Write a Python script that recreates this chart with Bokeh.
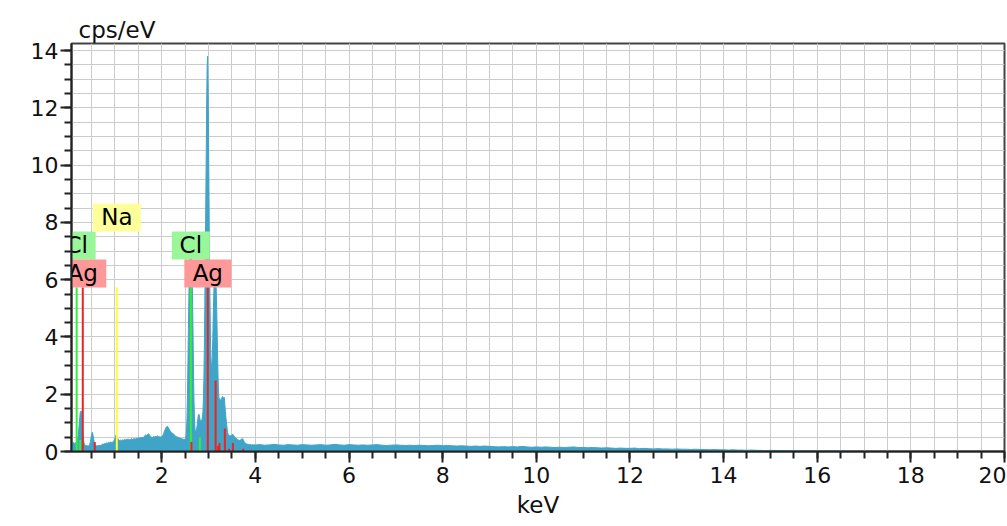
from bokeh.plotting import figure
from bokeh.models import Range1d, FixedTicker, ColumnDataSource
from bokeh.core.properties import value
from bokeh.embed import file_html
from bokeh.resources import INLINE

FONT = "DejaVu Sans"

# ---------------- spectrum data (cps/eV) ----------------
# each segment: (start keV, channel step keV, counts)
seg1_start, seg1_step = 0.08, 0.02
seg1_counts = [
    0.22, 0.30, 0.32, 0.28, 0.30, 0.34, 0.40, 0.58, 1.00, 1.36,
    1.42, 1.02, 0.52, 0.30, 0.22, 0.20, 0.21, 0.19, 0.20, 0.23,
    0.36, 0.58, 0.67, 0.50, 0.30, 0.22, 0.20, 0.19, 0.21, 0.20,
    0.22, 0.21, 0.24, 0.26, 0.25, 0.28, 0.27, 0.30, 0.29, 0.31,
    0.30, 0.33, 0.32, 0.31, 0.34, 0.37, 0.46, 0.57, 0.55, 0.45,
    0.40, 0.38, 0.40, 0.37, 0.41, 0.39, 0.42, 0.40, 0.43, 0.41,
    0.44, 0.42, 0.40, 0.43, 0.45, 0.42, 0.44, 0.46, 0.43, 0.47,
    0.45, 0.48, 0.46, 0.49, 0.47, 0.50, 0.48, 0.52, 0.55, 0.58,
    0.56, 0.60, 0.62, 0.57, 0.53, 0.50, 0.48, 0.52, 0.50, 0.53,
    0.51, 0.55, 0.53, 0.50, 0.52, 0.50, 0.52, 0.55, 0.62, 0.72,
    0.80, 0.86, 0.88, 0.84, 0.78, 0.72, 0.68, 0.65, 0.62, 0.60,
    0.56, 0.53, 0.52, 0.50, 0.49, 0.47, 0.46, 0.45, 0.44, 0.43,
    0.43, 0.42,
]
seg2_start, seg2_step = 2.51, 0.01
seg2_counts = [
    0.46, 0.55, 0.75, 1.20, 2.00, 3.10, 4.30, 5.40, 6.30, 6.90,
    7.25, 7.35, 7.20, 6.80, 6.10, 5.10, 3.90, 2.70, 1.70, 1.10,
    0.80, 0.68, 0.68, 0.72, 0.82, 0.95, 1.10, 1.25, 1.30, 1.28,
    1.20, 1.10, 1.05, 1.06, 1.10, 1.12, 1.20, 1.40, 1.80, 2.50,
    3.60, 5.10, 6.80, 8.50, 10.3, 12.2, 13.4, 13.8, 12.8, 11.0,
    8.90, 6.90, 5.30, 4.10, 3.30, 2.95, 2.95, 3.30, 3.90, 4.70,
    5.40, 5.95, 6.25, 6.35, 6.25, 5.90, 5.30, 4.50, 3.60, 2.80,
    2.20, 1.90, 1.80, 1.85, 1.80, 1.75, 1.80, 1.85, 1.90, 1.92,
    1.88, 1.82, 1.90, 1.85, 1.60, 1.40, 1.20, 1.05, 0.90, 0.75,
    0.65, 0.60, 0.57, 0.55, 0.55,
]
seg3_start, seg3_step = 3.46, 0.02
seg3_counts = [
    0.55, 0.55, 0.58, 0.60, 0.55, 0.50, 0.47, 0.45, 0.42, 0.40,
    0.38, 0.40, 0.43, 0.45, 0.42, 0.35, 0.30, 0.27, 0.26, 0.25,
    0.24, 0.25, 0.24, 0.23, 0.24, 0.23, 0.24,
]
seg4_start, seg4_step = 4.0, 0.1
seg4_counts = [
    0.23, 0.24, 0.22, 0.23, 0.25, 0.23, 0.22, 0.24, 0.23, 0.22,
    0.24, 0.23, 0.22, 0.23, 0.24, 0.22, 0.23, 0.25, 0.23, 0.22,
    0.24, 0.23, 0.22, 0.23, 0.22, 0.23, 0.24, 0.22, 0.21, 0.22,
    0.23, 0.22, 0.21, 0.22, 0.21, 0.22, 0.21, 0.20, 0.21, 0.22,
    0.20, 0.21, 0.20, 0.19, 0.20, 0.19, 0.18, 0.19, 0.18, 0.19,
    0.18, 0.17, 0.16, 0.17, 0.16, 0.17, 0.16, 0.18, 0.16, 0.15,
    0.16, 0.15, 0.16, 0.15, 0.14, 0.15, 0.14, 0.15, 0.16, 0.14,
    0.14, 0.13, 0.14, 0.13, 0.12, 0.13, 0.12, 0.11, 0.12, 0.11,
    0.11, 0.12, 0.10, 0.11, 0.10, 0.09, 0.10, 0.09, 0.09, 0.08,
    0.09, 0.08, 0.08, 0.07, 0.08, 0.07, 0.07, 0.06, 0.07, 0.06,
    0.06, 0.05, 0.06, 0.05, 0.05, 0.04, 0.05, 0.04, 0.04, 0.03,
    0.04, 0.03, 0.03, 0.03, 0.02, 0.03, 0.02, 0.02, 0.02, 0.02,
    0.02, 0.01, 0.02, 0.01, 0.01, 0.01, 0.01, 0.01, 0.00, 0.01,
    0.00,
]
segments = [
    (seg1_start, seg1_step, seg1_counts),
    (seg2_start, seg2_step, seg2_counts),
    (seg3_start, seg3_step, seg3_counts),
    (seg4_start, seg4_step, seg4_counts),
]

# ---------------- element lines ----------------
line_element = ["Cl", "Cl", "Cl", "Cl",
                "Ag", "Ag", "Ag", "Ag", "Ag", "Ag", "Ag", "Ag", "Ag", "Ag", "Ag",
                "Na"]
line_energy = [0.183, 0.257, 2.622, 2.815,
               0.314, 0.570, 2.634, 2.984, 3.151, 3.203, 3.234, 3.348, 3.440, 3.520, 3.740,
               1.041]
line_height = [5.73, 0.40, 5.73, 0.50,
               5.73, 0.33, 0.33, 5.73, 2.48, 0.20, 0.30, 0.80, 0.10, 0.30, 0.10,
               5.73]

# labels: element, energy
label_element = ["Cl", "Ag", "Na", "Cl", "Ag"]
label_energy = [0.183, 0.314, 1.041, 2.622, 2.984]
label_top_cps = 5.73

x_ticks = [2, 4, 6, 8, 10, 12, 14, 16, 18, 20]
y_ticks = [0, 2, 4, 6, 8, 10, 12, 14]

# ---------------- styles ----------------
line_colors = {"Cl": "#33ee33", "Ag": "#ee2222", "Na": "#ffff33"}
box_colors = {"Cl": "#99f799", "Ag": "#ff9999", "Na": "#ffff99"}
box_row = {"Ag": 0, "Cl": 1, "Na": 2}
box_width_px = {"Ag": 47, "Cl": 38, "Na": 48}
BOX_H_PX = 28

X0, X1 = 0.073, 20.0
Y0, Y1 = 0.0, 14.25
W, H = 1006, 525
MB_L, MB_R, MB_T, MB_B = 71, 2, 43, 74
frame_h = H - MB_T - MB_B

p = figure(width=W, height=H, output_backend="svg", toolbar_location=None,
           x_range=Range1d(X0, X1), y_range=Range1d(Y0, Y1),
           min_border_left=MB_L, min_border_right=MB_R,
           min_border_top=MB_T, min_border_bottom=MB_B)
p.title.text = "cps/eV"
p.title.align = "left"
p.title.offset = 7
p.title.standoff = 1
p.title.text_font = FONT
p.title.text_font_size = "23px"
p.title.text_font_style = "normal"
p.title.text_color = "#111111"
p.background_fill_color = "white"
p.border_fill_color = "white"
p.outline_line_color = "#444444"
p.outline_line_width = 2

# spectrum
energies, counts = [], []
for start, step, vals in segments:
    for i, v in enumerate(vals):
        energies.append(round(start + step * i, 4))
        counts.append(v)
spec = ColumnDataSource(dict(e=energies, c=counts, z=[0] * len(counts)))
p.varea(x="e", y1="z", y2="c", source=spec, fill_color="#40a4c8")
p.line(x="e", y="c", source=spec, line_color="#40a4c8", line_width=1)

# element lines
lsrc = ColumnDataSource(dict(
    x=line_energy, y0=[0] * len(line_energy), y1=line_height,
    color=[line_colors[e] for e in line_element]))
p.segment(x0="x", y0="y0", x1="x", y1="y1", source=lsrc, line_color="color", line_width=2)

# labels
unit_per_px = (Y1 - Y0) / frame_h
bx = dict(x=[], y=[], w=[], fill=[], name=[])
for el, en in zip(label_element, label_energy):
    bx["x"].append(en)
    bx["y"].append(label_top_cps + (box_row[el] + 0.5) * BOX_H_PX * unit_per_px)
    bx["w"].append(box_width_px[el])
    bx["fill"].append(box_colors[el])
    bx["name"].append(el)
bsrc = ColumnDataSource(bx)
p.rect(x="x", y="y", width="w", height=BOX_H_PX * unit_per_px, width_units="screen",
       source=bsrc, fill_color="fill", line_color=None)
p.text(x="x", y="y", text="name", source=bsrc, text_font=value(FONT),
       text_font_size="23px", text_align="center", text_baseline="middle",
       text_color="black")

# axes
p.xaxis.ticker = FixedTicker(ticks=x_ticks, minor_ticks=[0.5 * k for k in range(1, 41)])
p.yaxis.ticker = FixedTicker(ticks=y_ticks, minor_ticks=[0.5 * k for k in range(0, 29)])
for ax in (p.xaxis[0], p.yaxis[0]):
    ax.axis_line_color = "#222222"
    ax.axis_line_width = 2
    ax.major_tick_line_color = "#222222"
    ax.major_tick_line_width = 2
    ax.minor_tick_line_color = "#222222"
    ax.minor_tick_line_width = 2
    ax.major_tick_out = 11
    ax.major_tick_in = 0
    ax.minor_tick_out = 7
    ax.minor_tick_in = 0
    ax.major_label_text_font = FONT
    ax.major_label_text_font_size = "22px"
    ax.major_label_text_color = "#111111"
p.xaxis.major_label_standoff = 4
p.yaxis.major_label_standoff = 2
p.xaxis.axis_label = "keV"
p.xaxis.axis_label_text_font = FONT
p.xaxis.axis_label_text_font_size = "23px"
p.xaxis.axis_label_text_font_style = "normal"
p.xaxis.axis_label_text_color = "#111111"
p.xaxis.axis_label_standoff = 6

for g in (p.xgrid[0], p.ygrid[0]):
    g.grid_line_color = "#cccccc"
    g.grid_line_width = 1
    g.minor_grid_line_color = "#cccccc"
    g.minor_grid_line_width = 1

open("out.html", "w").write(file_html(p, INLINE))
